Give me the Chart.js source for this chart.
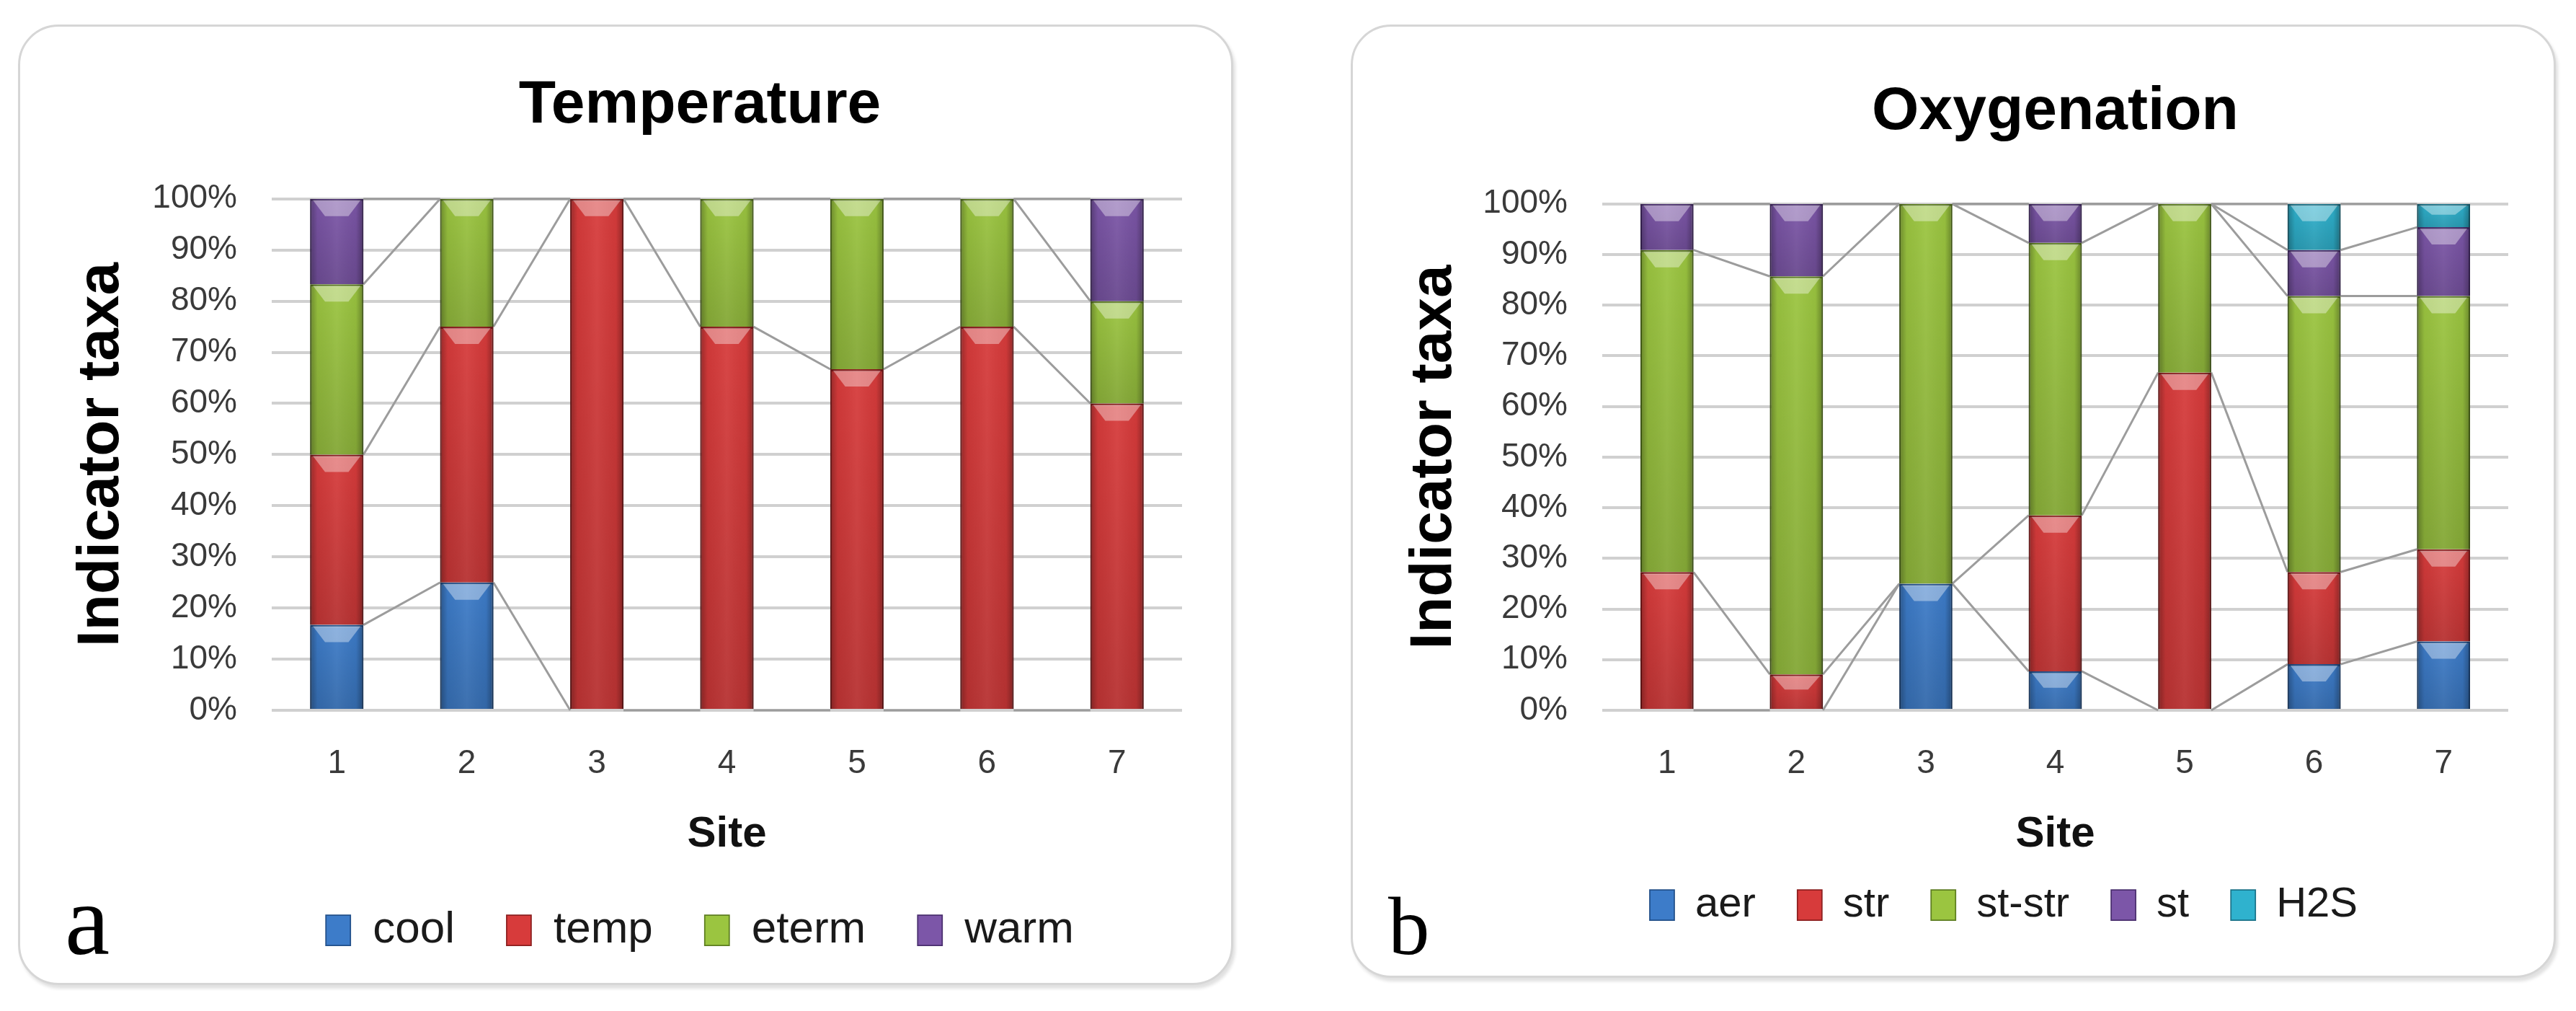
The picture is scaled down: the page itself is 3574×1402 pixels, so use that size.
<!DOCTYPE html>
<html>
<head>
<meta charset="utf-8">
<title>Indicator taxa by site</title>
<script src="https://cdn.jsdelivr.net/npm/chart.js@4.4.1/dist/chart.umd.min.js"></script>
<style>
  html, body { margin: 0; padding: 0; background: #fff; width: 3574px; height: 1402px; overflow: hidden; }
  .panel { position: absolute; box-sizing: border-box; border: 3px solid #d6d6d6; border-radius: 56px;
           box-shadow: 3px 5px 4px rgba(0,0,0,0.12); background: #fff; }
  canvas { position: absolute; }
  .tag { position: absolute; font-family: "Liberation Serif", serif; line-height: 1; color: #000; }
</style>
</head>
<body>
<div class="panel" style="left:25px;top:34px;width:1686px;height:1332px"></div>
<div class="panel" style="left:1874px;top:34px;width:1672px;height:1322px"></div>
<canvas id="tempChart" width="1892" height="1297" style="left:25px;top:34px"></canvas>
<canvas id="oxyChart" width="1812" height="1260" style="left:1874px;top:34px"></canvas>
<div class="tag" style="left:90px;top:1206px;font-size:140px">a</div>
<div class="tag" style="left:1926px;top:1227px;font-size:115px">b</div>
<script>
const sites = ["1", "2", "3", "4", "5", "6", "7"];

// panel a - temperature preference, % of indicator taxa
const cool = [16.7, 25, 0, 0, 0, 0, 0];
const temp = [33.3, 50, 100, 75, 66.7, 75, 60];
const eterm = [33.3, 25, 0, 25, 33.3, 25, 20];
const warm = [16.7, 0, 0, 0, 0, 0, 20];

// panel b - oxygenation, % of indicator taxa
const aer = [0, 0, 25, 7.7, 0, 9.1, 13.6];
const str = [27.3, 7.1, 0, 30.8, 66.7, 18.2, 18.2];
const stStr = [63.6, 78.6, 75, 53.8, 33.3, 54.5, 50];
const st = [9.1, 14.3, 0, 7.7, 0, 9.1, 13.6];
const h2s = [0, 0, 0, 0, 0, 9.1, 4.6];

// fill / edge colour pairs
const blue = ["#3d7cc9", "#22508a"];
const red = ["#d73b3b", "#8c1f1f"];
const green = ["#9bc540", "#5d7d20"];
const purple = ["#7c56a8", "#4a2f6e"];
const cyan = ["#2fb2ce", "#1a7389"];

Chart.defaults.font.family = "'Liberation Sans', Arial, sans-serif";

function series(label, data, col) {
  return {
    label: label,
    data: data,
    backgroundColor: col[0],
    borderColor: col[1],
    borderWidth: { top: 3, left: 2, right: 2, bottom: 0 },
    borderSkipped: false,
    barPercentage: 0.41,
    categoryPercentage: 1,
  };
}

// grey lines joining the top of each series from one bar to the next (Excel "series lines")
const seriesLines = {
  id: "seriesLines",
  beforeDatasetsDraw(chart) {
    const ctx = chart.ctx;
    ctx.save();
    ctx.strokeStyle = "#9c9c9c";
    ctx.lineWidth = 3;
    chart.data.datasets.forEach((ds, d) => {
      const bars = chart.getDatasetMeta(d).data;
      for (let i = 0; i < bars.length - 1; i++) {
        const a = bars[i];
        const b = bars[i + 1];
        ctx.beginPath();
        ctx.moveTo(a.x + a.width / 2, a.y);
        ctx.lineTo(b.x - b.width / 2, b.y);
        ctx.stroke();
      }
    });
    ctx.restore();
  },
};

// soft bevel on each segment
const bevel = {
  id: "bevel",
  afterDatasetsDraw(chart) {
    const ctx = chart.ctx;
    ctx.save();
    chart.data.datasets.forEach((ds, d) => {
      chart.getDatasetMeta(d).data.forEach((bar) => {
        const h = bar.base - bar.y;
        if (h < 2) return;
        const left = bar.x - bar.width / 2;
        const w = bar.width;
        let g = ctx.createLinearGradient(left, 0, left + w, 0);
        g.addColorStop(0, "rgba(0,0,0,0.30)");
        g.addColorStop(0.14, "rgba(0,0,0,0.04)");
        g.addColorStop(0.5, "rgba(255,255,255,0.06)");
        g.addColorStop(0.86, "rgba(0,0,0,0.04)");
        g.addColorStop(1, "rgba(0,0,0,0.32)");
        ctx.fillStyle = g;
        ctx.fillRect(left, bar.y, w, h);
        g = ctx.createLinearGradient(0, bar.y, 0, bar.base);
        g.addColorStop(0, "rgba(0,0,0,0)");
        g.addColorStop(1, "rgba(0,0,0,0.14)");
        ctx.fillStyle = g;
        ctx.fillRect(left, bar.y, w, h);
        const dep = Math.min(22, h * 0.4);
        ctx.beginPath();
        ctx.moveTo(left + 4, bar.y + 2);
        ctx.lineTo(left + w - 4, bar.y + 2);
        ctx.lineTo(left + w * 0.72, bar.y + 2 + dep);
        ctx.lineTo(left + w * 0.28, bar.y + 2 + dep);
        ctx.closePath();
        ctx.fillStyle = "rgba(255,255,255,0.38)";
        ctx.fill();
      });
    });
    ctx.restore();
  },
};

function stackedChart(id, datasets, cfg) {
  const ctx = document.getElementById(id).getContext("2d");
  return new Chart(ctx, {
    type: "bar",
    data: { labels: sites, datasets: datasets },
    options: {
      responsive: false,
      animation: false,
      devicePixelRatio: 1,
      events: [],
      layout: { padding: 0 },
      scales: {
        x: {
          stacked: true,
          grid: { display: false, drawTicks: false },
          border: { display: false },
          ticks: { padding: 47, font: { size: 46 }, color: "#3a3a3a" },
          title: {
            display: true,
            text: "Site",
            color: "#111",
            font: { size: 60, weight: "bold" },
            padding: { top: 0, bottom: cfg.sitePad },
          },
          afterFit: (s) => { s.height = cfg.xHeight; },
        },
        y: {
          stacked: true,
          min: 0,
          max: 100,
          ticks: {
            stepSize: 10,
            padding: 48,
            font: { size: 46 },
            color: "#3a3a3a",
            callback: (v) => v + "%",
          },
          grid: { color: "#d0d0d0", lineWidth: 4, drawTicks: false },
          border: { display: false },
          title: {
            display: true,
            text: "Indicator taxa",
            color: "#000",
            font: { size: 82, weight: "bold" },
            padding: { top: 67, bottom: 0 },
          },
          afterFit: (s) => { s.width = cfg.yWidth; },
        },
        gap: {
          type: "linear",
          position: "right",
          display: true,
          grid: { display: false },
          ticks: { display: false },
          border: { display: false },
          afterFit: (s) => { s.width = cfg.rightGap; },
        },
      },
      plugins: {
        title: {
          display: true,
          text: cfg.title,
          fullSize: cfg.titleFull,
          color: "#000",
          font: { size: 84, weight: "bold" },
          padding: cfg.titlePad,
        },
        legend: {
          position: "bottom",
          labels: {
            boxWidth: 34,
            boxHeight: 42,
            padding: cfg.legendPad,
            color: "#1a1a1a",
            font: { size: cfg.legendSize },
          },
        },
        tooltip: { enabled: false },
      },
    },
    plugins: [seriesLines, bevel],
  });
}

stackedChart(
  "tempChart",
  [
    series("cool", cool, blue),
    series("temp", temp, red),
    series("eterm", eterm, green),
    series("warm", warm, purple),
  ],
  {
    title: "Temperature",
    titleFull: true,
    titlePad: { top: 62, bottom: 79 },
    yWidth: 352,
    xHeight: 202,
    rightGap: 277,
    sitePad: -6,
    legendPad: 72,
    legendSize: 62,
  }
);

stackedChart(
  "oxyChart",
  [
    series("aer", aer, blue),
    series("str", str, red),
    series("st-str", stStr, green),
    series("st", st, purple),
    series("H2S", h2s, cyan),
  ],
  {
    title: "Oxygenation",
    titleFull: false,
    titlePad: { top: 71, bottom: 77 },
    yWidth: 349,
    xHeight: 183,
    rightGap: 206,
    sitePad: -25,
    legendPad: 58,
    legendSize: 58,
  }
);
</script>
</body>
</html>
